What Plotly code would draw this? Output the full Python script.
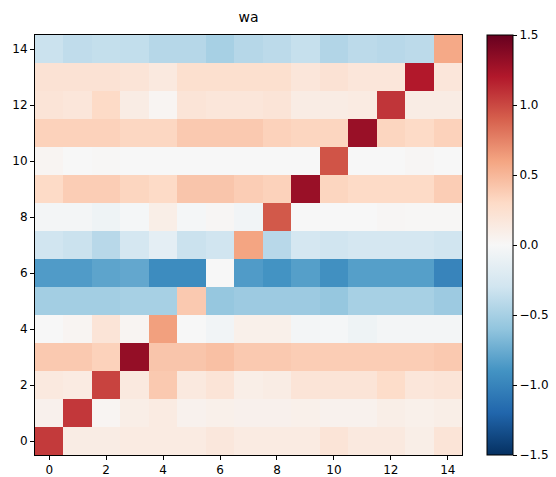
import plotly.graph_objects as go

# Matrix rows, index 0 = bottom row (y=0)
row_0 = [1.06, 0.12, 0.12, 0.13, 0.13, 0.13, 0.17, 0.13, 0.13, 0.13, 0.20, 0.15, 0.15, 0.10, 0.20]
row_1 = [0.07, 1.07, 0.03, 0.10, 0.13, 0.06, 0.08, 0.07, 0.07, 0.08, 0.06, 0.06, 0.10, 0.08, 0.10]
row_2 = [0.15, 0.13, 1.02, 0.15, 0.40, 0.15, 0.20, 0.10, 0.12, 0.20, 0.20, 0.20, 0.28, 0.18, 0.20]
row_3 = [0.40, 0.40, 0.35, 1.32, 0.42, 0.42, 0.45, 0.40, 0.40, 0.38, 0.38, 0.38, 0.38, 0.38, 0.40]
row_4 = [0.00, 0.03, 0.20, 0.03, 0.62, 0.00, -0.05, 0.08, 0.08, -0.03, -0.02, -0.07, -0.03, -0.03, -0.03]
row_5 = [-0.52, -0.52, -0.52, -0.50, -0.50, 0.40, -0.58, -0.55, -0.55, -0.55, -0.58, -0.50, -0.50, -0.50, -0.55]
row_6 = [-0.85, -0.85, -0.80, -0.78, -0.95, -0.95, 0.00, -0.85, -0.90, -0.83, -0.92, -0.83, -0.83, -0.83, -1.00]
row_7 = [-0.30, -0.33, -0.42, -0.27, -0.15, -0.33, -0.30, 0.60, -0.42, -0.27, -0.30, -0.27, -0.27, -0.27, -0.30]
row_8 = [-0.03, -0.03, -0.07, -0.02, 0.10, -0.02, 0.02, -0.05, 0.93, 0.00, 0.00, 0.00, 0.02, 0.01, 0.01]
row_9 = [0.30, 0.38, 0.38, 0.33, 0.30, 0.42, 0.42, 0.38, 0.35, 1.30, 0.33, 0.30, 0.30, 0.30, 0.38]
row_10 = [0.03, 0.00, 0.01, 0.00, 0.00, 0.00, 0.00, 0.00, 0.00, 0.00, 0.95, 0.00, 0.00, 0.02, 0.00]
row_11 = [0.35, 0.35, 0.35, 0.32, 0.32, 0.40, 0.40, 0.40, 0.35, 0.33, 0.33, 1.30, 0.33, 0.30, 0.35]
row_12 = [0.20, 0.18, 0.30, 0.12, 0.03, 0.20, 0.18, 0.18, 0.20, 0.12, 0.12, 0.13, 1.08, 0.12, 0.12]
row_13 = [0.22, 0.22, 0.22, 0.20, 0.15, 0.25, 0.25, 0.25, 0.25, 0.18, 0.22, 0.18, 0.18, 1.20, 0.18]
row_14 = [-0.33, -0.38, -0.36, -0.37, -0.43, -0.43, -0.50, -0.43, -0.40, -0.35, -0.45, -0.40, -0.42, -0.40, 0.58]

rows = [row_0, row_1, row_2, row_3, row_4, row_5, row_6, row_7,
        row_8, row_9, row_10, row_11, row_12, row_13, row_14]

tick_positions = [0, 2, 4, 6, 8, 10, 12, 14]
cbar_vals = [-1.5, -1.0, -0.5, 0.0, 0.5, 1.0, 1.5]
cbar_text = ["\u22121.5", "\u22121.0", "\u22120.5", "0.0", "0.5", "1.0", "1.5"]

rdbu_r = [
    [0.0, "#053061"], [0.1, "#2166ac"], [0.2, "#4393c3"], [0.3, "#92c5de"],
    [0.4, "#d1e5f0"], [0.5, "#f7f7f7"], [0.6, "#fddbc7"], [0.7, "#f4a582"],
    [0.8, "#d6604d"], [0.9, "#b2182b"], [1.0, "#67001f"],
]

fig = go.Figure(go.Heatmap(
    z=rows,
    x=list(range(15)),
    y=list(range(15)),
    colorscale=rdbu_r,
    zmin=-1.5, zmax=1.5,
    colorbar=dict(
        x=1.058, xanchor="left", xpad=0,
        y=0.5, yanchor="middle", len=1.0, lenmode="fraction", ypad=0,
        thickness=26, thicknessmode="pixels",
        outlinecolor="black", outlinewidth=1,
        tickvals=cbar_vals, ticktext=cbar_text,
        ticks="outside", ticklen=4, tickcolor="black",
        tickfont=dict(family="DejaVu Sans", size=12, color="black"),
    ),
))

axis_common = dict(
    showgrid=False, zeroline=False,
    showline=True, linecolor="black", linewidth=1, mirror=True,
    ticks="outside", ticklen=4, tickcolor="black",
    tickfont=dict(family="DejaVu Sans", size=12, color="black"),
    range=[-0.5, 14.5], tickvals=tick_positions,
)

fig.update_layout(
    width=556, height=477,
    margin=dict(l=35, r=94, t=35, b=22, autoexpand=False),
    paper_bgcolor="white", plot_bgcolor="white",
    title=dict(text="wa", x=(35 + 462) / 2 / 556, xanchor="center",
               y=1 - 17 / 477, yanchor="middle",
               font=dict(family="DejaVu Sans", size=14, color="black")),
    xaxis=axis_common,
    yaxis=axis_common,
)

fig.write_html("out.html")
